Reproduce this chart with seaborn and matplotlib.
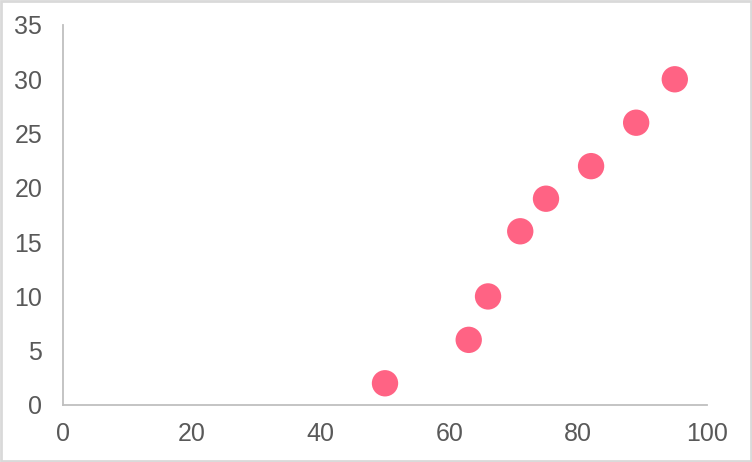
import matplotlib
matplotlib.use("Agg")
import matplotlib.pyplot as plt
import seaborn as sns
import pandas as pd
from matplotlib.patches import Rectangle

# Data
x_values = [50, 63, 66, 71, 75, 82, 89, 95]
y_values = [2, 6, 10, 16, 19, 22, 26, 30]
x_ticks = [0, 20, 40, 60, 80, 100]
y_ticks = [0, 5, 10, 15, 20, 25, 30, 35]

df = pd.DataFrame({"x": x_values, "y": y_values})

sns.set_style("white")
plt.rcParams["font.family"] = ["Liberation Sans", "DejaVu Sans"]

fig = plt.figure(figsize=(7.52, 4.62), dpi=100)
ax = fig.add_axes([63 / 752, 57 / 462, 644 / 752, 380 / 462])

sns.scatterplot(data=df, x="x", y="y", ax=ax, s=360, color="#FF6384",
                edgecolor="none", legend=False, clip_on=False)

ax.set_xlim(0, 100)
ax.set_ylim(0, 35)
ax.set_xticks(x_ticks)
ax.set_yticks(y_ticks)
ax.set_xlabel("")
ax.set_ylabel("")
ax.tick_params(axis="both", length=0, labelsize=18, labelcolor="#595959")
ax.tick_params(axis="x", pad=12)
ax.tick_params(axis="y", pad=15)

for side in ["top", "right"]:
    ax.spines[side].set_visible(False)
for side in ["left", "bottom"]:
    ax.spines[side].set_color("#bfbfbf")
    ax.spines[side].set_linewidth(1.3)

# Light frame around the figure
fig.patches.append(Rectangle((0.0015, 0.0025), 0.997, 0.995, transform=fig.transFigure,
                             fill=False, edgecolor="#d9d9d9", linewidth=2))

plt.savefig("out.png", dpi=100)
plt.close()
